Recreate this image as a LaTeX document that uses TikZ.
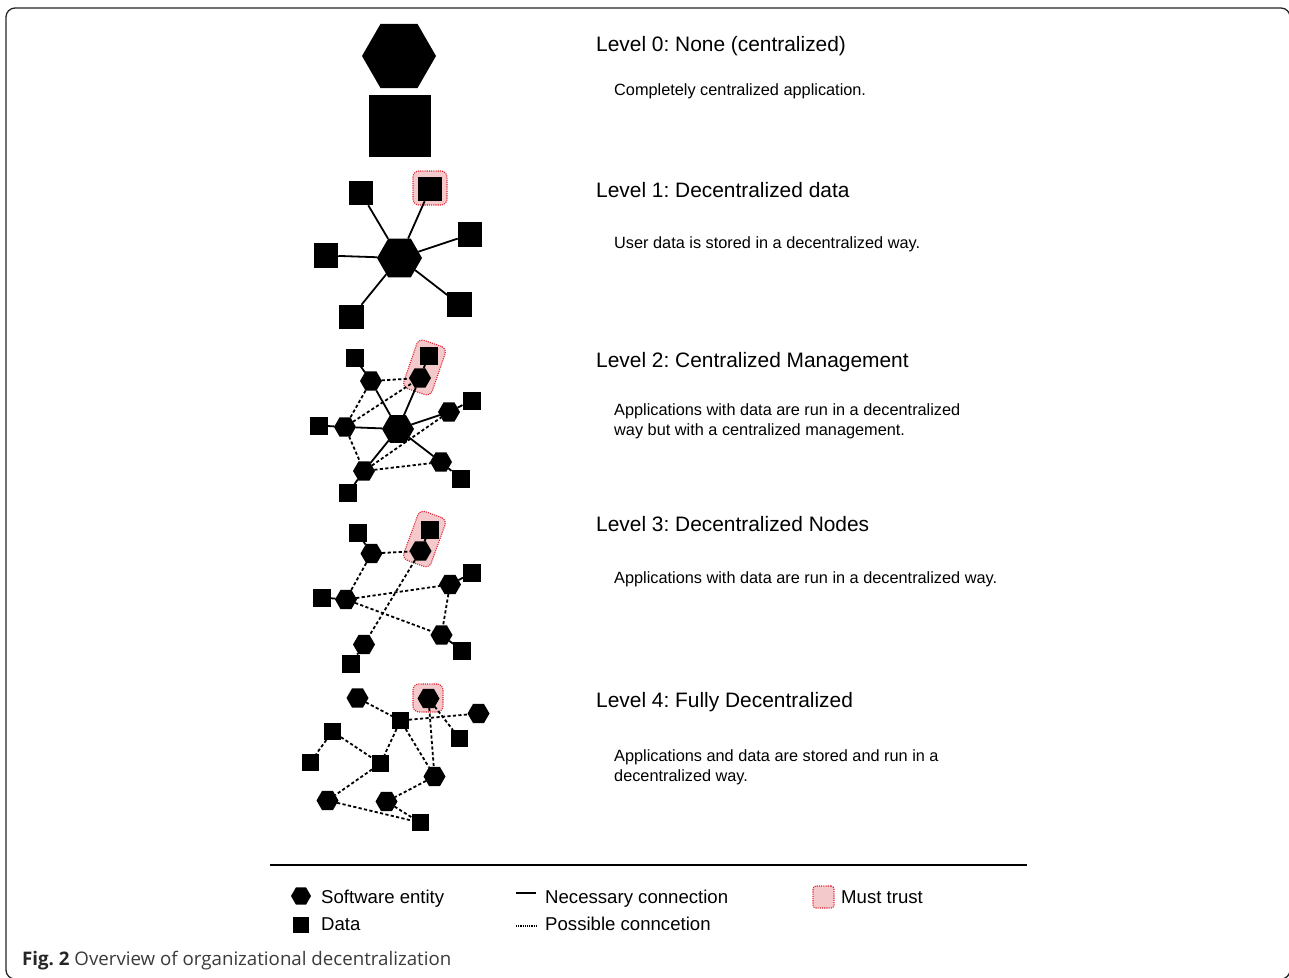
\documentclass[tikz,border=0pt]{standalone}
\usepackage{fontspec}
\setmainfont{Liberation Sans}
\newfontfamily\capfont{Open Sans}
\usetikzlibrary{shapes.geometric}
\definecolor{trustfill}{HTML}{F4C9CB}
\definecolor{trustline}{HTML}{E2202F}
\definecolor{capgray}{HTML}{3A3A3A}
\frenchspacing
\begin{document}
\begin{tikzpicture}[x=1pt,y=-1pt,
  hexa/.style={regular polygon, regular polygon sides=6, fill=black, inner sep=0pt, outer sep=0pt, minimum size=#1},
  sq/.style={rectangle, fill=black, inner sep=0pt, outer sep=0pt, minimum size=#1},
  necline/.style={line width=1.8pt},
  posline/.style={line width=1.8pt, dash pattern=on 3.2pt off 2.3pt},
  trustbox/.style={fill=trustfill, draw=trustline, line width=1.1pt, dash pattern=on 1.1pt off 1.1pt, rounded corners=6pt, inner sep=0pt},
  title/.style={anchor=base west, inner sep=0pt, font=\fontsize{20.9}{24}\selectfont},
  desc/.style={anchor=base west, inner sep=0pt, font=\fontsize{16.3}{20}\selectfont},
  leg/.style={anchor=base west, inner sep=0pt, font=\fontsize{18.6}{22}\selectfont}]
\useasboundingbox (0,0) rectangle (1289,977);
\begin{scope}
\clip (0,0) rectangle (1289,977);
\draw[line width=1.3pt, black!85, rounded corners=9pt] (6,8) rectangle (1290,979);
\end{scope}

% ---------- Level 0
\node[hexa=74] (h0) at (399,56) {};
\node[sq=62] (s0) at (400,125.5) {};
\node[title] (t0) at (596,51) {Level 0: None (centralized)};
\node[desc] (d0) at (614,95) {Completely centralized application.};

% ---------- Level 1
\node[trustbox, minimum size=34pt] (tr1) at (430,188) {};
\node[hexa=45] (h1) at (399.5,258) {};
\node[sq=24.5] (a1) at (361,193) {};
\node[sq=24.5] (b1) at (430,189) {};
\node[sq=24.5] (c1) at (470,234.5) {};
\node[sq=24.5] (d1) at (326,255.5) {};
\node[sq=24.5] (e1) at (459.5,304.5) {};
\node[sq=24.5] (f1) at (351.5,317) {};
\foreach \n in {a1,b1,c1,d1,e1,f1} \draw[necline] (h1) -- (\n);
\node[title] (t1) at (596,197) {Level 1: Decentralized data};
\node[desc] (d1t) at (614,248) {User data is stored in a decentralized way.};

% ---------- Level 2
\node[trustbox, minimum width=30pt, minimum height=51pt, rotate=-19] (tr2) at (424.5,367.5) {};
\node[hexa=32] (m2) at (398,429) {};
\node[hexa=22] (a2) at (371,381) {};
\node[hexa=22] (b2) at (420,378) {};
\node[hexa=22] (c2) at (449,412) {};
\node[hexa=22] (d2) at (345,427) {};
\node[hexa=22] (e2) at (364,471) {};
\node[hexa=22] (f2) at (441,462) {};
\node[sq=18] (sa2) at (354.5,357.5) {};
\node[sq=18] (sb2) at (428.5,355.5) {};
\node[sq=18] (sc2) at (471.5,400.5) {};
\node[sq=18] (sd2) at (318.5,425.5) {};
\node[sq=18] (se2) at (348,493) {};
\node[sq=18] (sf2) at (460.5,478.5) {};
\foreach \n in {a2,b2,c2,d2,e2,f2} \draw[necline] (m2) -- (\n);
\draw[necline] (a2) -- (sa2); \draw[necline] (b2) -- (sb2); \draw[necline] (c2) -- (sc2);
\draw[necline] (d2) -- (sd2); \draw[necline] (e2) -- (se2); \draw[necline] (f2) -- (sf2);
\draw[posline] (a2) -- (b2);
\draw[posline] (a2) -- (d2);
\draw[posline] (d2) -- (b2);
\draw[posline] (d2) -- (e2);
\draw[posline] (e2) -- (c2);
\draw[posline] (e2) -- (f2);
\node[title] (t2) at (596,367) {Level 2: Centralized Management};
\node[desc] (d2a) at (614,415) {Applications with data are run in a decentralized};
\node[desc] (d2b) at (614,435) {way but with a centralized management.};

% ---------- Level 3
\node[trustbox, minimum width=29pt, minimum height=52pt, rotate=-20] (tr3) at (424.5,539) {};
\node[hexa=22] (a3) at (371.5,553.5) {};
\node[hexa=22] (b3) at (420.5,551) {};
\node[hexa=22] (c3) at (450,584.5) {};
\node[hexa=22] (d3) at (346,599.5) {};
\node[hexa=22] (e3) at (364,644.5) {};
\node[hexa=22] (f3) at (441.5,635) {};
\node[sq=18] (sa3) at (357.5,532.5) {};
\node[sq=18] (sb3) at (429.5,529.5) {};
\node[sq=18] (sc3) at (472,573) {};
\node[sq=18] (sd3) at (322,597.5) {};
\node[sq=18] (se3) at (351,663.5) {};
\node[sq=18] (sf3) at (462,650.5) {};
\draw[necline] (a3) -- (sa3); \draw[necline] (b3) -- (sb3); \draw[necline] (c3) -- (sc3);
\draw[necline] (d3) -- (sd3); \draw[necline] (e3) -- (se3); \draw[necline] (f3) -- (sf3);
\draw[posline] (a3) -- (b3);
\draw[posline] (a3) -- (d3);
\draw[posline] (d3) -- (c3);
\draw[posline] (d3) -- (f3);
\draw[posline] (b3) -- (e3);
\draw[posline] (c3) -- (f3);
\node[title] (t3) at (596,531) {Level 3: Decentralized Nodes};
\node[desc] (d3t) at (614,583) {Applications with data are run in a decentralized way.};

% ---------- Level 4
\node[trustbox, minimum width=30pt, minimum height=28pt] (tr4) at (428,698) {};
\node[hexa=22] (h41) at (357.5,698) {};
\node[hexa=22] (h42) at (428.5,698.5) {};
\node[hexa=22] (h43) at (478.5,713.5) {};
\node[hexa=22] (h44) at (434.5,776.5) {};
\node[hexa=22] (h45) at (327.5,800.5) {};
\node[hexa=22] (h46) at (386.5,801.5) {};
\node[sq=17] (s41) at (400.5,720.5) {};
\node[sq=17] (s42) at (332.5,731.5) {};
\node[sq=17] (s43) at (459.5,738.5) {};
\node[sq=17] (s44) at (310,762.5) {};
\node[sq=17] (s45) at (380.5,763.5) {};
\node[sq=17] (s46) at (420,822.5) {};
\draw[posline] (h41) -- (s41);
\draw[posline] (s41) -- (h43);
\draw[posline] (s41) -- (s45);
\draw[posline] (s41) -- (h44);
\draw[posline] (h42) -- (h44);
\draw[posline] (h42) -- (s43);
\draw[posline] (s42) -- (s44);
\draw[posline] (s42) -- (s45);
\draw[posline] (s45) -- (h45);
\draw[posline] (h44) -- (h46);
\draw[posline] (h45) -- (s46);
\draw[posline] (h46) -- (s46);
\node[title] (t4) at (596,707) {Level 4: Fully Decentralized};
\node[desc] (d4a) at (614,761) {Applications and data are stored and run in a};
\node[desc] (d4b) at (614,781) {decentralized way.};

% ---------- Legend
\coordinate (r1) at (270,865);
\coordinate (r2) at (1027,865);
\draw[line width=1.5pt] (r1) -- (r2);
\node[hexa=20] (lh) at (301,896) {};
\node[sq=16] (ls) at (300.5,924.5) {};
\node[leg] (lht) at (321,903) {Software entity};
\node[leg] (lst) at (321,930) {Data};
\coordinate (n1) at (516,893);
\coordinate (n2) at (536,893);
\draw[line width=1.3pt] (n1) -- (n2);
\coordinate (p1) at (516,926);
\coordinate (p2) at (537,926);
\draw[line width=1.1pt, dash pattern=on 1.1pt off 1.1pt] (p1) -- (p2);
\node[leg] (lnt) at (545,903) {Necessary connection};
\node[leg] (lpt) at (545,930) {Possible conncetion};
\node[trustbox, minimum width=21pt, minimum height=22pt, rounded corners=3pt] (lt) at (823.5,897) {};
\node[leg] (ltt) at (841,903) {Must trust};

% ---------- Caption
\node[anchor=base west, inner sep=0pt, font=\capfont\fontsize{18.7}{22}\selectfont, text=capgray] (cap) at (22,965) {{\bfseries\color{black!85}Fig. 2} Overview of organizational decentralization};
\end{tikzpicture}
\end{document}
